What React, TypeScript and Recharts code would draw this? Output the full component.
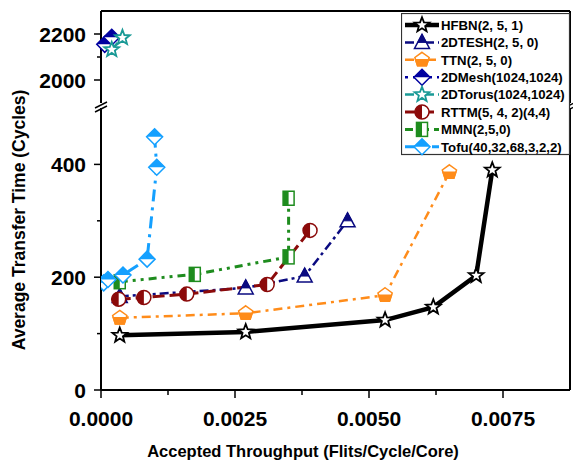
import React from 'react';
import { LineChart, Line, XAxis, YAxis, ReferenceLine, Legend } from 'recharts';

const FONT = '"Liberation Sans", Arial, Helvetica, sans-serif';
const W = 573;
const H = 468;
const X_MAX = 0.00875;

// accepted throughput (flits/cycle/core) per network
const HFBN_X = [0.00035, 0.0027, 0.0053, 0.0062, 0.007, 0.0073];
const TESH_X = [0.00035, 0.0027, 0.0038, 0.0046];
const TTN_X = [0.00035, 0.0027, 0.0053, 0.0065];
const MESH_X = [0.00007, 0.0002];
const TORUS_X = [0.0002, 0.0004];
const RTTM_X = [0.00033, 0.0008, 0.0016, 0.0031, 0.0039];
const MMN_X = [0.00035, 0.00175, 0.0035, 0.0035];
const TOFU_X = [0.00005, 0.00013, 0.00041, 0.00086, 0.00104, 0.001];

// average transfer time (cycles)
const HFBN_Y = [97, 103, 124, 147, 203, 390];
const TESH_Y = [166, 181, 202, 300];
const TTN_Y = [128, 136, 168, 386];
const MESH_Y = [2155, 2186];
const TORUS_Y = [2132, 2184];
const RTTM_Y = [161, 164, 170, 187, 283];
const MMN_Y = [192, 205, 236, 340];
const TOFU_Y = [190, 196, 204, 232, 395, 449];

const X_TICKS = [0, 0.00125, 0.0025, 0.00375, 0.005, 0.00625, 0.0075];
const X_LABELED = [0, 0.0025, 0.005, 0.0075];
const LOW_TICKS = [0, 100, 200, 300, 400];
const LOW_LABELED = [0, 200, 400];
const HIGH_TICKS = [2000, 2100, 2200];
const HIGH_LABELED = [2000, 2200];

type MarkerKind = 'star' | 'triangle' | 'pentagon' | 'diamond' | 'circle' | 'square';

interface Series {
  name: string;
  xs: number[];
  ys: number[];
  color: string;
  width: number;
  dash?: string;
  marker: MarkerKind;
  upper?: boolean;
}

const SERIES: Series[] = [
  { name: 'HFBN(2, 5, 1)', xs: HFBN_X, ys: HFBN_Y, color: '#000000', width: 4.5, marker: 'star' },
  { name: '2DTESH(2, 5, 0)', xs: TESH_X, ys: TESH_Y, color: '#0A0A80', width: 2.5, dash: '9 4 3 4', marker: 'triangle' },
  { name: 'TTN(2, 5, 0)', xs: TTN_X, ys: TTN_Y, color: '#FF8C1A', width: 2.5, dash: '9 5 3 5', marker: 'pentagon' },
  { name: '2DMesh(1024,1024)', xs: MESH_X, ys: MESH_Y, color: '#0000A0', width: 2.5, dash: '3 5', marker: 'diamond', upper: true },
  { name: '2DTorus(1024,1024)', xs: TORUS_X, ys: TORUS_Y, color: '#1A9A96', width: 2.5, dash: '9 4 3 4', marker: 'star', upper: true },
  { name: 'RTTM(5, 4, 2)(4,4)', xs: RTTM_X, ys: RTTM_Y, color: '#8B0A0A', width: 3, dash: '12 5', marker: 'circle' },
  { name: 'MMN(2,5,0)', xs: MMN_X, ys: MMN_Y, color: '#1E8C1E', width: 3, dash: '8 5 3 5 3 5', marker: 'square' },
  { name: 'Tofu(40,32,68,3,2,2)', xs: TOFU_X, ys: TOFU_Y, color: '#14A0FF', width: 3, dash: '12 6 3 6', marker: 'diamond' },
];

const toPoints = (s: Series) => s.xs.map((x, i) => ({ x, y: s.ys[i] }));

const pts = (arr: number[][]) => arr.map(p => p.join(',')).join(' ');

// half-open / half-filled symbols
function Marker({ kind, cx, cy, color }: { kind: MarkerKind; cx: number; cy: number; color: string }) {
  if (cx == null || cy == null) return null;
  const sw = 1.5;
  if (kind === 'star') {
    const star: number[][] = [];
    for (let i = 0; i < 10; i++) {
      const a = ((-90 + i * 36) * Math.PI) / 180;
      const r = i % 2 === 0 ? 7.8 : 3.3;
      star.push([cx + r * Math.cos(a), cy + r * Math.sin(a)]);
    }
    return <polygon points={pts(star)} fill="#fff" stroke={color} strokeWidth={1.8} />;
  }
  if (kind === 'triangle') {
    return (
      <g>
        <polygon points={pts([[cx, cy - 8], [cx + 7.5, cy + 6], [cx - 7.5, cy + 6]])} fill="#fff" stroke={color} strokeWidth={sw} />
        <polygon points={pts([[cx, cy - 8], [cx + 4.3, cy], [cx - 4.3, cy]])} fill={color} stroke={color} strokeWidth={1} />
      </g>
    );
  }
  if (kind === 'pentagon') {
    const r = 7.5;
    const v = [-90, -18, 54, 126, 198].map(d => {
      const a = (d * Math.PI) / 180;
      return [cx + r * Math.cos(a), cy + r * Math.sin(a)];
    });
    const k = 0.851 * r;
    return (
      <g>
        <polygon points={pts(v)} fill="#fff" stroke={color} strokeWidth={sw} />
        <polygon points={pts([[cx + k, cy], v[2], v[3], [cx - k, cy]])} fill={color} stroke={color} strokeWidth={sw} />
      </g>
    );
  }
  if (kind === 'diamond') {
    const r = 8;
    return (
      <g>
        <polygon points={pts([[cx, cy - r], [cx + r, cy], [cx, cy + r], [cx - r, cy]])} fill="#fff" stroke={color} strokeWidth={sw} />
        <polygon points={pts([[cx, cy - r], [cx + r, cy], [cx - r, cy]])} fill={color} />
      </g>
    );
  }
  if (kind === 'circle') {
    const r = 7;
    return (
      <g>
        <circle cx={cx} cy={cy} r={r} fill="#fff" stroke={color} strokeWidth={sw} />
        <path d={`M${cx},${cy - r} A${r},${r} 0 0 0 ${cx},${cy + r} Z`} fill={color} />
      </g>
    );
  }
  // square
  return (
    <g>
      <rect x={cx - 5.5} y={cy - 7} width={11} height={14} fill="#fff" stroke={color} strokeWidth={sw} />
      <rect x={cx - 5.5} y={cy - 7} width={5.5} height={14} fill={color} />
    </g>
  );
}

const tickText = { fontFamily: FONT, fontWeight: 700, fontSize: 21, fill: '#000' };

const makeYTick = (labeled: number[]) => (props: any) => {
  const { x, y, payload } = props;
  const major = labeled.includes(payload.value);
  return (
    <g>
      <line x1={x} x2={x - (major ? 7 : 4)} y1={y} y2={y} stroke="#000" strokeWidth={1.5} />
      {major && (
        <text x={x - 15} y={y} dy="0.36em" textAnchor="end" {...tickText}>
          {payload.value}
        </text>
      )}
    </g>
  );
};

const XTick = (props: any) => {
  const { x, y, payload } = props;
  const major = X_LABELED.includes(payload.value);
  return (
    <g>
      <line x1={x} x2={x} y1={y} y2={y + (major ? 8 : 5)} stroke="#000" strokeWidth={1.5} />
      {major && (
        <text x={x} y={y + 36} textAnchor="middle" {...tickText}>
          {payload.value.toFixed(4)}
        </text>
      )}
    </g>
  );
};

const LegendBox = () => (
  <svg width={170} height={143} style={{ display: 'block' }}>
    <rect x={0.5} y={0.5} width={168} height={141} fill="#fff" stroke="#333" strokeWidth={1.2} />
    {SERIES.map((s, i) => {
      const cy = 12 + i * 17.4;
      return (
        <g key={s.name}>
          <line x1={4} x2={38} y1={cy} y2={cy} stroke={s.color} strokeWidth={s.width} strokeDasharray={s.dash} />
          <Marker kind={s.marker} cx={21} cy={cy} color={s.color} />
          <text x={40} y={cy} dy="0.36em" fontFamily={FONT} fontWeight={700} fontSize={13.2}>
            {s.name}
          </text>
        </g>
      );
    })}
  </svg>
);

const renderLine = (s: Series) => (
  <Line
    key={s.name}
    data={toPoints(s)}
    dataKey="y"
    name={s.name}
    type="linear"
    stroke={s.color}
    strokeWidth={s.width}
    strokeDasharray={s.dash}
    dot={(p: any) => <Marker key={`${s.name}-${p.index}`} kind={s.marker} cx={p.cx} cy={p.cy} color={s.color} />}
    activeDot={false}
    isAnimationActive={false}
  />
);

// axis break marks "//" on both sides
const BreakMark = ({ x }: { x: number }) => (
  <g stroke="#000" strokeWidth={1.5}>
    <line x1={x - 6} y1={108} x2={x + 6} y2={102} />
    <line x1={x - 6} y1={112} x2={x + 6} y2={106} />
  </g>
);

export default function App() {
  return (
    <div style={{ position: 'absolute', left: 0, top: 0, width: W, height: H, background: '#fff' }}>
      <div style={{ position: 'absolute', left: 0, top: 0 }}>
        <LineChart width={W} height={103} margin={{ top: 11, right: 3, left: 0, bottom: 0 }}>
          <XAxis dataKey="x" type="number" domain={[0, X_MAX]} hide />
          <YAxis
            type="number"
            domain={[1900, 2300]}
            ticks={HIGH_TICKS}
            width={101}
            tickSize={0}
            tickMargin={0}
            tickLine={false}
            axisLine={{ stroke: '#000', strokeWidth: 2 }}
            tick={makeYTick(HIGH_LABELED)}
            allowDataOverflow
          />
          <ReferenceLine y={2300} stroke="#000" strokeWidth={2} />
          <ReferenceLine x={X_MAX} stroke="#000" strokeWidth={2} />
          {SERIES.filter(s => s.upper).map(renderLine)}
        </LineChart>
      </div>
      <div style={{ position: 'absolute', left: 0, top: 0 }}>
        <LineChart width={W} height={H} margin={{ top: 108, right: 3, left: 0, bottom: 0 }}>
          <XAxis
            dataKey="x"
            type="number"
            domain={[0, X_MAX]}
            ticks={X_TICKS}
            height={78}
            tickSize={0}
            tickMargin={0}
            tickLine={false}
            axisLine={{ stroke: '#000', strokeWidth: 2 }}
            tick={XTick}
            interval={0}
            allowDataOverflow
          />
          <YAxis
            type="number"
            domain={[0, 500]}
            ticks={LOW_TICKS}
            width={101}
            tickSize={0}
            tickMargin={0}
            tickLine={false}
            axisLine={{ stroke: '#000', strokeWidth: 2 }}
            tick={makeYTick(LOW_LABELED)}
            allowDataOverflow
          />
          <ReferenceLine x={X_MAX} stroke="#000" strokeWidth={2} />
          {SERIES.filter(s => !s.upper).map(renderLine)}
          <Legend
            layout="vertical"
            align="center"
            verticalAlign="middle"
            wrapperStyle={{ left: 401, top: 13, width: 170, height: 143, zIndex: 5 }}
            content={() => <LegendBox />}
          />
        </LineChart>
      </div>
      <svg width={W} height={H} style={{ position: 'absolute', left: 0, top: 0, pointerEvents: 'none' }}>
        <BreakMark x={101} />
        <BreakMark x={570} />
        <text
          transform="translate(25,220) rotate(-90)"
          textAnchor="middle"
          fontFamily={FONT}
          fontWeight={700}
          fontSize={17.5}
        >
          Average Transfer Time (Cycles)
        </text>
        <text x={303} y={457} textAnchor="middle" fontFamily={FONT} fontWeight={700} fontSize={16.5}>
          Accepted Throughput (Flits/Cycle/Core)
        </text>
      </svg>
    </div>
  );
}
